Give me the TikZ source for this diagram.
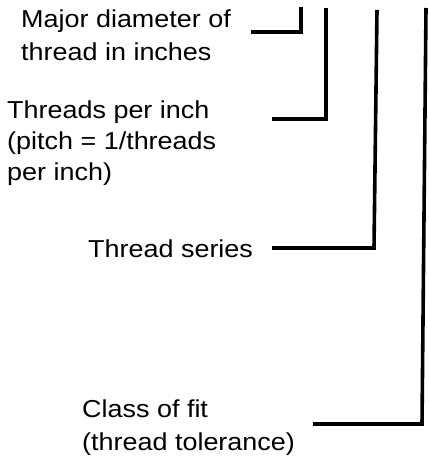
\documentclass[tikz,border=0pt]{standalone}
\usepackage{fontspec}
\setmainfont{Liberation Sans}[FakeStretch=1.1]
\begin{document}
\begin{tikzpicture}[x=1pt,y=-1pt,
  lbl/.style={anchor=base west,inner sep=0pt,align=left,
    font=\fontsize{24.5}{33}\selectfont},
  leader/.style={line width=3.6pt,line cap=butt,line join=miter}]
\useasboundingbox (0,0) rectangle (428,457);
% labels (anchored at the baseline of their last line)
\node[lbl] (major) at (21,61) {Major diameter of\\thread in inches};
\node[lbl,font=\fontsize{24.5}{31}\selectfont] (tpi) at (7,180) {Threads per inch\\(pitch = 1/threads\\per inch)};
\node[lbl] (series) at (88,257) {Thread series};
\node[lbl] (fit) at (82,450) {Class of fit\\(thread tolerance)};
% leader end points
\coordinate (m1) at (251,32);
\coordinate (m2) at (301,32);
\coordinate (m3) at (301,7);
\coordinate (t1) at (272,119);
\coordinate (t2) at (326,119);
\coordinate (t3) at (326,8);
\coordinate (s1) at (272,248);
\coordinate (s2) at (374,248);
\coordinate (s3) at (377,10);
\coordinate (f1) at (313,424);
\coordinate (f2) at (422,424);
\coordinate (f3) at (426,8);
\draw[leader] (m1) -- (m2) -- (m3);
\draw[leader] (t1) -- (t2) -- (t3);
\draw[leader] (s1) -- (s2) -- (s3);
\draw[leader] (f1) -- (f2) -- (f3);
\end{tikzpicture}
\end{document}
